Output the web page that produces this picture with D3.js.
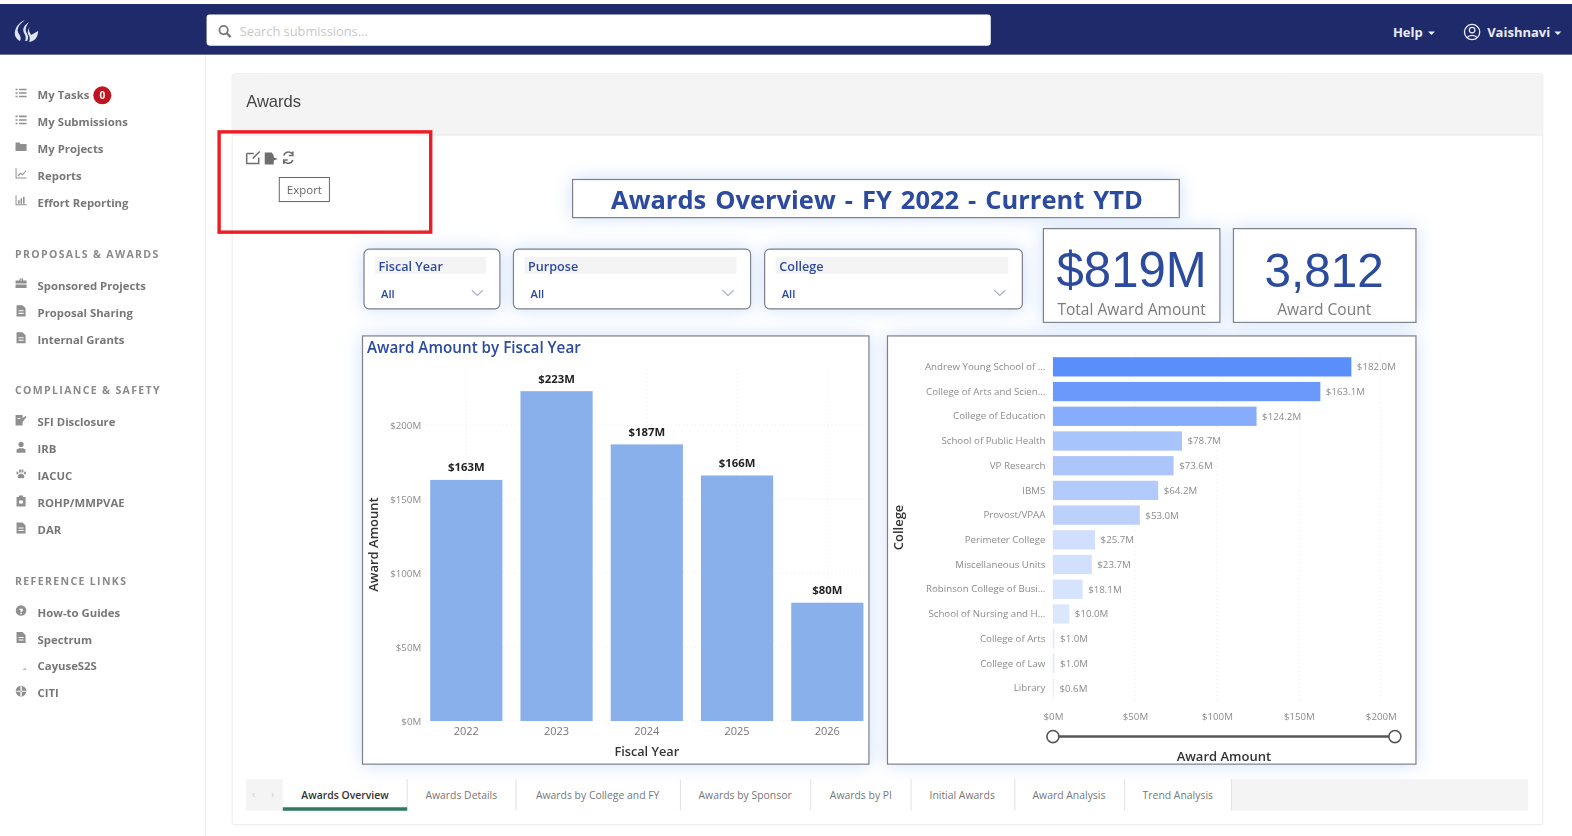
<!DOCTYPE html>
<html><head><meta charset="utf-8">
<script src="https://cdn.jsdelivr.net/npm/d3@7"></script>
<style>
html,body{margin:0;padding:0;background:#fff;overflow:hidden}
svg{display:block;font-family:"Open Sans",sans-serif;filter:blur(.4px)}
.glow{filter:drop-shadow(0 0 9px #cfe0fb)}
</style></head><body><svg id="c" width="1572" height="836"></svg>
<script>
// ---- data ----
const fiscalYears = ["2022","2023","2024","2025","2026"];
const fiscalAmounts = [163,223,187,166,80];
const fiscalLabels = ["$163M","$223M","$187M","$166M","$80M"];
const colleges = ["Andrew Young School of ...","College of Arts and Scien...","College of Education","School of Public Health","VP Research","IBMS","Provost/VPAA","Perimeter College","Miscellaneous Units","Robinson College of Busi...","School of Nursing and H...","College of Arts","College of Law","Library"];
const collegeAmounts = [182.0,163.1,124.2,78.7,73.6,64.2,53.0,25.7,23.7,18.1,10.0,1.0,1.0,0.6];
const yTicks = [0,50,100,150,200];
const xTicks = [0,50,100,150,200];
const navMain = ["My Tasks","My Submissions","My Projects","Reports","Effort Reporting"];
const navProposals = ["Sponsored Projects","Proposal Sharing","Internal Grants"];
const navCompliance = ["SFI Disclosure","IRB","IACUC","ROHP/MMPVAE","DAR"];
const navReference = ["How-to Guides","Spectrum","CayuseS2S","CITI"];
const navHeads = ["PROPOSALS & AWARDS","COMPLIANCE & SAFETY","REFERENCE LINKS"];
const tabs = ["Awards Overview","Awards Details","Awards by College and FY","Awards by Sponsor","Awards by PI","Initial Awards","Award Analysis","Trend Analysis"];
const slicers = ["Fiscal Year","Purpose","College"];

const svg = d3.select("#c").append("g").attr("transform","scale(1.0028)");
const NAVY="#1f2a6b", BLUE="#2c4a9e", GREY="#7b7b7b", TICK="#8c8c8c", EDGE="#7d8087";
const txt=(x,y,s,size,fill,anchor="start",weight=400,g=svg)=>g.append("text").attr("x",x).attr("y",y).attr("font-size",size).attr("fill",fill).attr("text-anchor",anchor).attr("font-weight",weight).text(s);
const rect=(x,y,w,h,fill,stroke,sw=1,rx=0,cls)=>svg.append("rect").attr("x",x).attr("y",y).attr("width",w).attr("height",h).attr("fill",fill).attr("stroke",stroke||"none").attr("stroke-width",sw).attr("rx",rx).attr("class",cls||null);

// ---- top bar ----
rect(0,4,1572,50.5,NAVY);
svg.append("path").attr("d","M25 20c-7 5-9 10-6 14 2 3 2 5 1 7-4-2-6-6-5-10 1-5 5-9 10-11zM29 22c-5 3-7 7-5 11 2 3 2 6 1 8h2c2-3 1-6-1-9-1-3 0-6 3-10zM32 24c-3 3-4 6-2 9l1 2 7-4c0 6-3 10-9 11 1-3 1-5-1-8-1-3 1-7 4-10z").attr("fill","#dfe4f2");
rect(206,14.5,782,31,"#fff",null,0,3);
svg.append("circle").attr("cx",223).attr("cy",30).attr("r",4.2).attr("fill","none").attr("stroke","#777").attr("stroke-width",1.8);
svg.append("line").attr("x1",226).attr("y1",33).attr("x2",230).attr("y2",37).attr("stroke","#777").attr("stroke-width",2.2);
txt(239,35.5,"Search submissions...",12.8,"#c8c8c8");
txt(1389,36.5,"Help",13,"#e9ebf5","start",700);
svg.append("path").attr("d","M1424 31.5h7l-3.5 3.5z").attr("fill","#e9ebf5");
svg.append("circle").attr("cx",1468).attr("cy",32).attr("r",7.6).attr("fill","none").attr("stroke","#e9ebf5").attr("stroke-width",1.3);
svg.append("circle").attr("cx",1468).attr("cy",30).attr("r",2.8).attr("fill","none").attr("stroke","#e9ebf5").attr("stroke-width",1.2);
svg.append("path").attr("d","M1463 37.5c2-3 8-3 10 0").attr("fill","none").attr("stroke","#e9ebf5").attr("stroke-width",1.2);
txt(1483,36.5,"Vaishnavi",13,"#e9ebf5","start",700);
svg.append("path").attr("d","M1550 31.5h7l-3.5 3.5z").attr("fill","#e9ebf5");

// ---- sidebar ----
svg.append("line").attr("x1",205).attr("x2",205).attr("y1",55).attr("y2",836).attr("stroke","#ececec");
const LIST="M0 1h2v1.500H0zM0 4.500h2V6H0zM0 8h2v1.500H0zM3.500 1H11v1.500H3.500zM3.500 4.500H11V6H3.500zM3.500 8H11v1.500H3.500z";
const CHART="M0 0h1v9h10v1H0zM2 7l3-3 2 1.500L10 2l.8.6L7 7 5 5.500 3 8z";
const BARS="M0 0h1v9h10v1H0zM2.500 5h1.500v3.500H2.500zM5 3h1.500v5.500H5zM7.500 1.500H9v7H7.500z";
const FOLDER="M0 1h4l1 1.500h6V9.500H0z";
const DOC="M1 0h6l3 3v8H1zM3 5h5v1H3zM3 7.500h5v1H3z";
const BRIEF="M4 0h3.500v2H11v7.500H0V2h4zM5 1v1h1.500V1zM0 5h11v1H0z";
const PERSON="M5.500 0a2.600 2.600 0 1 1 0 5.200 2.600 2.600 0 0 1 0-5.200zM1 11V8.500C1 7 3 6.500 5.500 6.500S10 7 10 8.500V11z";
const PAW="M5.500 5c2.500 0 4 2.500 3 4-1 1-2 .2-3 .2s-2 .8-3-.2c-1-1.500.5-4 3-4zM1 3h1.800v2.500H1zM3.500 .8h1.800v3H3.500zM6 .8h1.800v3H6zM8.500 3h1.800v2.500H8.500z";
const CLIP="M3.500 0h4v1.500H10V11H1V1.500h2.500zM3.500 5v3h4V5z";
const HELP="M5.500 0a5.300 5.300 0 1 1 0 10.600A5.300 5.300 0 0 1 5.500 0zM3.800 3.500h3.400v2.200L6.300 6.500H4.800V5.300L5.800 4.800H3.800zM4.800 7.500h1.500V9H4.800z";
const GLOBE="M5.500 0a5.300 5.300 0 1 1 0 10.600A5.300 5.300 0 0 1 5.500 0zM.8 4.800h9.400v1H.8zM4.800 .5h1.400v9.600H4.800z";
const SFI="M0 0h7v3l3-2 1 1-4 5v3.500H0zM2 3h3v1H2z";
const icons={"My Tasks":LIST,"My Submissions":LIST,"My Projects":FOLDER,"Reports":CHART,"Effort Reporting":BARS,"Sponsored Projects":BRIEF,"Proposal Sharing":DOC,"Internal Grants":DOC,"SFI Disclosure":SFI,"IRB":PERSON,"IACUC":PAW,"ROHP/MMPVAE":CLIP,"DAR":DOC,"How-to Guides":HELP,"Spectrum":DOC,"CITI":GLOBE};
let ny=95;
const navItem=(s,i)=>{
  const y=ny+i*26.8;
  if(icons[s]) svg.append("path").attr("d",icons[s]).attr("transform",`translate(15.5,${y-7.5})`).attr("fill","#8f8f8f").attr("fill-rule","evenodd");
  else svg.append("path").attr("d",`M22 ${y+3.500}l4-2v2z`).attr("fill","#e8a24a");
  txt(37.5,y+4,s,11.3,"#777","start",700);
};
navMain.forEach(navItem);
ny+=4*26.8+51;
[navProposals,navCompliance,navReference].forEach((list,k)=>{
  svg.append("text").attr("x",15).attr("y",ny+4).attr("font-size",10.5).attr("font-weight",700).attr("fill","#8a8a8a").attr("letter-spacing",1.35).text(navHeads[k]);
  ny+=32;
  list.forEach(navItem);
  ny+=(list.length-1)*26.8+50.5;
});
svg.append("circle").attr("cx",102).attr("cy",95).attr("r",9).attr("fill","#c0141f");
txt(102,98.5,"0",10,"#fff","middle",700);

// ---- card ----
rect(231.5,73.5,1307,749,"#fff","#ebebeb",1,3);
rect(232,74,1306,60,"#f4f4f4",null,0,3);
svg.append("line").attr("x1",232).attr("x2",1538).attr("y1",134.5).attr("y2",134.5).attr("stroke","#e6e6e6");
txt(245.5,107,"Awards",16.5,"#444","start",400).attr("font-family","Liberation Sans");

// callout
rect(218.5,131.5,211,100,"none","#ee1c25",3.4);
svg.append("path").attr("d","M246 153h7M246 153v10h12v-6M252 158l7-7").attr("fill","none").attr("stroke","#6e6e6e").attr("stroke-width",1.5);
svg.append("path").attr("d","M264 152h7l2 3v9h-9zM273 157l4 1.5-4 1.5z").attr("fill","#6e6e6e");
svg.append("path").attr("d","M292 154a5 5 0 0 0-9 1M283 160.500a5 5 0 0 0 9-1M292 151v4h-4M283 163.500v-4h4").attr("fill","none").attr("stroke","#6e6e6e").attr("stroke-width",1.6);
rect(278.500,177,50,24,"#fff","#666",1);
txt(303.500,193,"Export",11.5,"#666","middle");

// ---- title and KPI ----
rect(571,179,605,38,"#fff",EDGE,1.2,0,"glow");
txt(874.500,208,"Awards Overview - FY 2022 - Current YTD",25.4,BLUE,"middle",700).attr("word-spacing",2.4);
rect(1040.500,228,176,93.500,"#fff",EDGE,1.2,0,"glow");
txt(1128.500,286.500,"$819M",49,BLUE,"middle",400).attr("font-family","Liberation Sans");
txt(1128.500,314,"Total Award Amount",15.500,GREY,"middle");
rect(1230,228,182,93.500,"#fff",EDGE,1.2,0,"glow");
txt(1320.500,286.500,"3,812",47.5,BLUE,"middle",400).attr("font-family","Liberation Sans");
txt(1320.500,314,"Award Count",15.500,GREY,"middle");

// ---- slicers ----
const slicerX=d3.scaleOrdinal().domain(slicers).range([363,512,762.500]);
const slicerW=d3.scaleOrdinal().domain(slicers).range([135.500,236.500,257]);
slicers.forEach(s=>{
  const x=slicerX(s),w=slicerW(s);
  rect(x,248.500,w,59.500,"#fff",EDGE,1.2,5,"glow");
  rect(x+11,256,w-25,17,"#f4f4f4");
  txt(x+14.500,270.500,s,12.6,BLUE,"start",600);
  txt(x+17,297,"All",11.2,BLUE,"start",600);
  svg.append("path").attr("d",`M${x+w-28} 289.500l5.500 5 5.500-5`).attr("fill","none").attr("stroke","#a9b1c4").attr("stroke-width",1.2);
});

// ---- left chart ----
rect(361.500,335,505,427,"#fff",EDGE,1.2,0,"glow");
txt(366,352,"Award Amount by Fiscal Year",15.200,BLUE,"start",600);
const xL=d3.scaleBand().domain(fiscalYears).range([420,870]).paddingInner(.2).paddingOuter(.1);
const yL=d3.scaleLinear().domain([0,200]).range([719,424]);
const gridL=svg.append("g");
gridL.selectAll("line.v").data(fiscalYears).join("line").attr("x1",d=>xL(d)+xL.bandwidth()/2).attr("x2",d=>xL(d)+xL.bandwidth()/2).attr("y1",368).attr("y2",719).attr("stroke","#ececec").attr("stroke-dasharray","1 3");
gridL.selectAll("line.h").data(yTicks).join("line").attr("x1",425).attr("x2",864).attr("y1",d=>yL(d)).attr("y2",d=>yL(d)).attr("stroke","#ececec").attr("stroke-dasharray","1 3");
svg.append("g").selectAll("rect").data(fiscalYears).join("rect").attr("x",d=>xL(d)).attr("width",xL.bandwidth()).attr("y",(d,i)=>yL(fiscalAmounts[i])).attr("height",(d,i)=>yL(0)-yL(fiscalAmounts[i])).attr("fill","#8ab0ec");
svg.append("g").selectAll("text").data(fiscalYears).join("text").attr("x",d=>xL(d)+xL.bandwidth()/2).attr("y",(d,i)=>yL(fiscalAmounts[i])-8.500).attr("text-anchor","middle").attr("font-size",11.300).attr("font-weight",700).attr("fill","#222").text((d,i)=>fiscalLabels[i]);
const axL=svg.append("g").attr("transform","translate(423,0)").call(d3.axisLeft(yL).tickValues(yTicks).tickSize(0).tickFormat(d=>`$${d}M`));
axL.select(".domain").remove();
axL.selectAll("text").attr("font-size",9.7).attr("fill",TICK).attr("font-family","Open Sans").attr("dy","0.32em");
const axB=svg.append("g").attr("transform","translate(0,722)").call(d3.axisBottom(xL).tickSize(0));
axB.select(".domain").remove();
axB.selectAll("text").attr("font-size",11).attr("fill","#777").attr("font-family","Open Sans");
txt(645,753.500,"Fiscal Year",12.7,"#333","middle",600);
svg.append("text").attr("transform","translate(376.500,543) rotate(-90)").attr("text-anchor","middle").attr("font-size",13).attr("font-weight",600).attr("fill","#333").text("Award Amount");

// ---- right chart ----
rect(885,335,527,427,"#fff",EDGE,1.2,0,"glow");
const xR=d3.scaleLinear().domain([0,200]).range([1050,1377]);
const yR=d3.scaleBand().domain(colleges).range([353.500,698.500]).paddingInner(.22).paddingOuter(.11);
const color=d3.scaleLinear().domain([0,182]).range(["#e3ecfd","#5a8ffb"]);
svg.append("g").selectAll("line").data(xTicks).join("line").attr("x1",d=>xR(d)).attr("x2",d=>xR(d)).attr("y1",353).attr("y2",700).attr("stroke","#e8e8e8").attr("stroke-dasharray","1 3");
svg.append("g").selectAll("rect").data(colleges).join("rect").attr("x",xR(0)).attr("y",d=>yR(d)).attr("height",yR.bandwidth()).attr("width",(d,i)=>xR(collegeAmounts[i])-xR(0)).attr("fill",(d,i)=>color(collegeAmounts[i]));
svg.append("g").selectAll("text").data(colleges).join("text").attr("x",(d,i)=>xR(collegeAmounts[i])+5.500).attr("y",d=>yR(d)+yR.bandwidth()/2).attr("dy","0.35em").attr("font-size",9.7).attr("fill",TICK).text((d,i)=>`$${collegeAmounts[i].toFixed(1)}M`);
const axR=svg.append("g").attr("transform","translate(1042.500,0)").call(d3.axisLeft(yR).tickSize(0));
axR.select(".domain").remove();
axR.selectAll("text").attr("x",0).attr("font-size",9.7).attr("fill",TICK).attr("font-family","Open Sans");
const axRB=svg.append("g").attr("transform","translate(0,708)").call(d3.axisBottom(xR).tickValues(xTicks).tickSize(0).tickFormat(d=>`$${d}M`));
axRB.select(".domain").remove();
axRB.selectAll("text").attr("font-size",9.7).attr("fill",TICK).attr("font-family","Open Sans");
svg.append("line").attr("x1",xR(0)).attr("x2",1391).attr("y1",734.500).attr("y2",734.500).attr("stroke","#555").attr("stroke-width",2.5);
[xR(0),1391].forEach(x=>svg.append("circle").attr("cx",x).attr("cy",734.500).attr("r",6).attr("fill","#fff").attr("stroke","#555").attr("stroke-width",1.6));
txt(1220.500,758.500,"Award Amount",13,"#333","middle",600);
svg.append("text").attr("transform","translate(900,526) rotate(-90)").attr("text-anchor","middle").attr("font-size",13).attr("font-weight",600).attr("fill","#333").text("College");

// ---- tabs ----
rect(245,777,1279,31.500,"#f4f4f4");
rect(282,777,946,31.500,"#fff");
txt(253,796,"‹",11,"#ccc","middle");
txt(272,796,"›",11,"#ccc","middle");
const tabEdges=d3.scaleOrdinal().domain(tabs).range([406,514.500,678.500,808.500,908.500,1012,1121.500,1228]);
const tabMid=d3.scaleOrdinal().domain(tabs).range([344,460,596,743,858.500,959.500,1066,1174.500]);
tabs.forEach((t,i)=>{
  txt(tabMid(t),797,t,10.400,i?"#777":"#333","middle",i?400:600);
  svg.append("line").attr("x1",tabEdges(t)).attr("x2",tabEdges(t)).attr("y1",777).attr("y2",808).attr("stroke","#e2e2e2");
});
rect(282,805,124,3.500,"#2f7a60");
</script></body></html>
